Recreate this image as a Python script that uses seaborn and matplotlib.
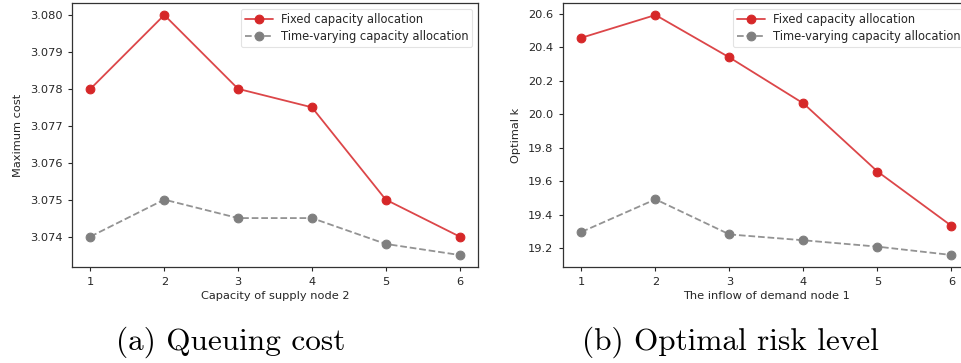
import matplotlib
matplotlib.use("Agg")
import matplotlib.pyplot as plt
from matplotlib.ticker import MultipleLocator, FormatStrFormatter
import numpy as np
import pandas as pd
import seaborn as sns

# x positions shared by both panels
x_vals = [1, 2, 3, 4, 5, 6]

# (a) queuing cost versus capacity of supply node 2
cost_fixed = [3.0780, 3.0800, 3.0780, 3.0775, 3.0750, 3.0740]
cost_varying = [3.0740, 3.0750, 3.0745, 3.0745, 3.0738, 3.0735]

# (b) optimal risk level versus inflow of demand node 1
k_fixed = [20.458, 20.594, 20.340, 20.065, 19.658, 19.333]
k_varying = [19.297, 19.492, 19.282, 19.247, 19.209, 19.159]

series_names = ["Fixed capacity allocation", "Time-varying capacity allocation"]
red = "#d62728"
gray = "#7f7f7f"

sns.set_style("ticks")
plt.rcParams["font.family"] = ["DejaVu Sans"]

fig = plt.figure(figsize=(9.62, 3.63), dpi=100)
ax_a = fig.add_axes([72 / 962, 1 - 267 / 363, 406 / 962, 264 / 363])
ax_b = fig.add_axes([563 / 962, 1 - 267 / 363, 407 / 962, 264 / 363])


def draw_panel(ax, fixed, varying, xlabel, ylabel):
    df_fixed = pd.DataFrame({"x": x_vals, "y": fixed})
    df_var = pd.DataFrame({"x": x_vals, "y": varying})
    sns.lineplot(data=df_fixed, x="x", y="y", ax=ax, color=(0.84, 0.15, 0.16, 0.85),
                 marker="o", markersize=6.3, markerfacecolor=red, markeredgecolor=red,
                 linewidth=1.3, label=series_names[0])
    sns.lineplot(data=df_var, x="x", y="y", ax=ax, color=(0.5, 0.5, 0.5, 0.85),
                 linestyle="--", marker="o", markersize=6.3, markerfacecolor=gray,
                 markeredgecolor=gray, linewidth=1.3, label=series_names[1])
    ax.set_xlabel(xlabel, fontsize=8.2, color="#262626", labelpad=3)
    ax.set_ylabel(ylabel, fontsize=8.2, color="#262626", labelpad=5)
    ax.set_xticks(x_vals)
    ax.tick_params(labelsize=8.2, length=3, width=0.8, pad=4, colors="#262626")
    for s in ax.spines.values():
        s.set_linewidth(0.9)
        s.set_color("#333333")
    leg = ax.legend(loc="upper right", fontsize=8.3, frameon=True, handlelength=2.4,
                    borderpad=0.35, labelspacing=0.4, handletextpad=0.7,
                    borderaxespad=0.5)
    leg.get_frame().set_edgecolor("#dddddd")
    leg.get_frame().set_linewidth(0.8)


draw_panel(ax_a, cost_fixed, cost_varying, "Capacity of supply node 2", "Maximum cost")
ax_a.yaxis.set_major_locator(MultipleLocator(0.001))
ax_a.yaxis.set_major_formatter(FormatStrFormatter("%.3f"))

draw_panel(ax_b, k_fixed, k_varying, "The inflow of demand node 1", "Optimal k")
ax_b.yaxis.set_major_locator(MultipleLocator(0.2))
ax_b.yaxis.set_major_formatter(FormatStrFormatter("%.1f"))

fig.text(231 / 962, 1 - 342 / 363, "(a) Queuing cost", family="cmr10", fontsize=22.5,
         ha="center", va="center", color="black")
fig.text(730 / 962, 1 - 342 / 363, "(b) Optimal risk level", family="cmr10", fontsize=22.5,
         ha="center", va="center", color="black")

fig.savefig("out.png", dpi=100)
